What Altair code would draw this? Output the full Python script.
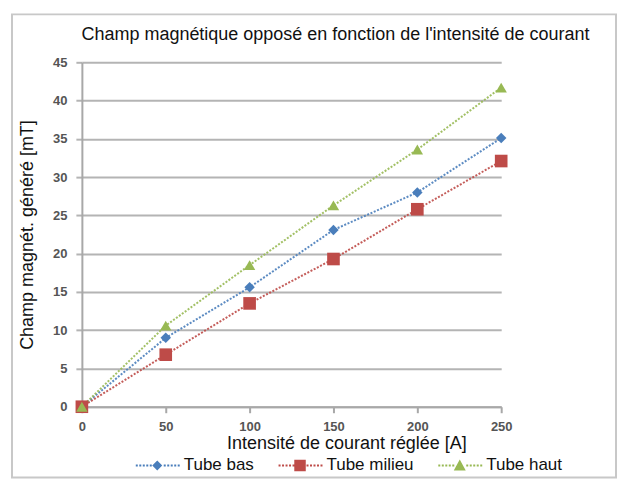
import altair as alt
import pandas as pd

current = [0, 50, 100, 150, 200, 250]
tube_bas = [0, 9.0, 15.6, 23.1, 28.0, 35.1]
tube_milieu = [0, 6.8, 13.5, 19.3, 25.8, 32.1]
tube_haut = [0, 10.6, 18.5, 26.3, 33.6, 41.7]
series = ["Tube bas", "Tube milieu", "Tube haut"]
colors = ["#4a7ebb", "#be4b48", "#98b954"]
markers = ["diamond", "square", "triangle-up"]
marker_sizes = [110, 160, 130]
y_ticks = [0, 5, 10, 15, 20, 25, 30, 35, 40, 45]

rows = []
for name, vals in zip(series, [tube_bas, tube_milieu, tube_haut]):
    for c, v in zip(current, vals):
        rows.append({"I": c, "B": v, "serie": name})
df = pd.DataFrame(rows)

# legend symbols: dotted line + marker (unit = 5 px)
def dots():
    parts = []
    x = -4.3
    while x < 4.2:
        if abs(x + 0.2) > 1.1:
            parts.append(f"M{x:.2f},-0.2h0.4v0.4h-0.4z")
        x += 0.7
    return "".join(parts)

d = dots()
leg_shapes = [
    d + "M0,-1L1,0L0,1L-1,0Z",
    d + "M-1.15,-1.15h2.3v2.3h-2.3z",
    d + "M0,-1.2L1.2,1L-1.2,1Z",
]

x = alt.X("I:Q", scale=alt.Scale(domain=[0, 250], nice=False),
          axis=alt.Axis(values=current, title="Intensité de courant réglée [A]",
                        grid=False, ticks=True, tickSize=6, tickColor="#a8a8a8",
                        tickWidth=2, labelPadding=8, labelFlush=False,
                        titleX=265, titleY=42, titleBaseline="alphabetic"))
y = alt.Y("B:Q", scale=alt.Scale(domain=[0, 45], nice=False),
          axis=alt.Axis(values=y_ticks, title="Champ magnét. généré [mT]",
                        grid=True, gridColor="#b4b4b4", gridWidth=2,
                        ticks=True, tickSize=6, tickColor="#b4b4b4", tickWidth=2,
                        labelPadding=9, labelFlush=False, titlePadding=16))
col = alt.Color("serie:N", scale=alt.Scale(domain=series, range=colors), legend=None)

leg = alt.Legend(title=None, orient="none", direction="horizontal",
                 legendX=67, legendY=395,
                 symbolSize=100, symbolOpacity=1, labelOffset=18, columnPadding=24,
                 labelFontSize=17, labelFont="Liberation Sans",
                 labelColor="#111", symbolStrokeWidth=0)

lines = alt.Chart(df).mark_line(strokeDash=[2, 1.6], strokeWidth=2, opacity=0.9).encode(
    x=x, y=y, color=col, detail="serie:N")

pt_layers = []
for name, mk, sz in zip(series, markers, marker_sizes):
    pt_layers.append(
        alt.Chart(df).transform_filter(alt.datum.serie == name)
        .mark_point(filled=True, opacity=1, shape=mk, size=sz)
        .encode(x=x, y=y, color=col)
    )

legend_layer = alt.Chart(df).mark_point(filled=True, opacity=0).encode(
    x=x, y=y,
    fill=alt.Fill("serie:N", scale=alt.Scale(domain=series, range=colors), legend=leg),
    shape=alt.Shape("serie:N", scale=alt.Scale(domain=series, range=leg_shapes), legend=leg),
)

frame = alt.Chart(alt.Data(values=[{}])).mark_rect(
    fill=None, stroke="#c8c8c8", strokeWidth=2).encode(
    x=alt.value(-70), x2=alt.value(535), y=alt.value(-48), y2=alt.value(416))

chart = alt.layer(frame, lines, *pt_layers, legend_layer).resolve_legend(
    fill="independent", shape="independent"
).properties(
    width=420, height=345,
    autosize=alt.AutoSizeParams(type="none"),
    padding={"left": 74, "top": 54, "right": 118, "bottom": 72},
    title=alt.Title("Champ magnétique opposé en fonction de l'intensité de courant",
                    fontSize=18, font="Liberation Sans", fontWeight="normal",
                    color="#111", dx=44, offset=-31, frame="group"),
).configure_view(stroke=None).configure_axis(
    domainColor="#a8a8a8", domainWidth=2,
    labelFont="Liberation Sans", labelFontWeight="bold", labelFontSize=13,
    labelColor="#555",
    titleFont="Liberation Sans", titleFontWeight="normal", titleFontSize=18,
    titleColor="#111",
)

chart.save("out.html", embed_options={"renderer": "svg", "actions": False})
